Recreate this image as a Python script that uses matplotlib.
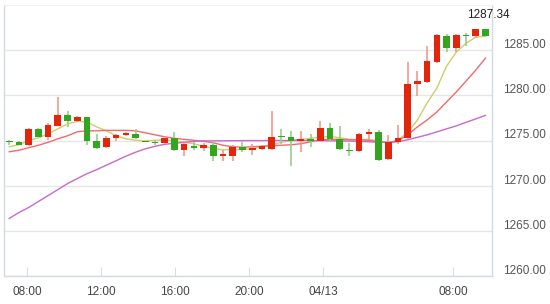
import matplotlib
matplotlib.use("Agg")
import matplotlib.pyplot as plt
import matplotlib.transforms as mtransforms
import numpy as np

# 30 min candles
opens = [1274.80, 1274.78, 1274.45, 1276.29, 1275.44, 1276.62, 1277.83, 1277.20, 1277.58, 1274.96,
         1274.23, 1275.26, 1275.60, 1275.74, 1274.85, 1274.82, 1274.67, 1275.26, 1273.90, 1274.42,
         1274.12, 1274.45, 1273.24, 1273.30, 1274.27, 1273.97, 1274.10, 1274.10, 1275.40, 1275.37,
         1275.00, 1275.15, 1275.00, 1276.37, 1275.15, 1274.00, 1273.80, 1275.70, 1275.93, 1272.95,
         1274.85, 1275.26, 1281.20, 1281.50, 1283.70, 1286.58, 1285.19, 1286.58, 1286.55, 1287.30]
highs = [1275.10, 1275.00, 1276.35, 1276.40, 1276.95, 1279.85, 1278.30, 1277.72, 1277.60, 1275.70,
         1275.52, 1275.70, 1275.90, 1276.30, 1274.90, 1275.05, 1275.33, 1275.93, 1274.90, 1274.80,
         1274.75, 1274.90, 1274.00, 1274.50, 1274.80, 1274.65, 1274.50, 1278.27, 1276.26, 1276.07,
         1276.07, 1275.70, 1277.17, 1276.95, 1276.65, 1274.75, 1275.80, 1276.30, 1276.20, 1275.63,
         1276.73, 1283.71, 1282.68, 1285.44, 1286.84, 1286.75, 1286.80, 1286.90, 1287.34, 1287.32]
lows = [1274.50, 1274.45, 1274.40, 1275.35, 1275.08, 1276.60, 1276.50, 1277.10, 1274.45, 1274.10,
        1274.15, 1274.90, 1275.50, 1275.20, 1274.78, 1274.50, 1274.60, 1273.80, 1273.24, 1273.90,
        1273.80, 1272.76, 1272.70, 1272.78, 1273.70, 1273.45, 1273.98, 1273.98, 1274.60, 1272.13,
        1273.68, 1274.30, 1274.90, 1274.80, 1273.90, 1273.30, 1273.70, 1275.20, 1272.70, 1272.80,
        1274.60, 1275.20, 1279.93, 1281.40, 1283.60, 1284.80, 1284.80, 1285.47, 1286.30, 1286.50]
closes = [1274.78, 1274.50, 1276.29, 1275.44, 1276.73, 1277.83, 1277.20, 1277.58, 1274.90, 1274.20,
          1275.26, 1275.63, 1275.80, 1275.26, 1274.82, 1274.67, 1275.26, 1273.90, 1274.56, 1274.12,
          1274.45, 1273.24, 1273.46, 1274.30, 1273.97, 1274.20, 1274.34, 1275.40, 1275.37, 1275.00,
          1275.15, 1275.00, 1276.37, 1275.15, 1274.05, 1273.80, 1275.70, 1275.93, 1272.87, 1274.85,
          1275.27, 1281.25, 1281.58, 1283.79, 1286.73, 1285.19, 1286.65, 1286.55, 1287.30, 1286.60]

ma_short = [1274.31, 1274.53, 1274.97, 1275.30, 1275.74, 1276.29, 1276.84, 1277.12, 1277.06, 1276.51,
            1276.07, 1275.52, 1275.19, 1275.02, 1274.97, 1275.02, 1275.08, 1274.97, 1274.80, 1274.64,
            1274.36, 1274.14, 1273.97, 1273.97, 1274.03, 1274.08, 1274.31, 1274.53, 1274.80, 1275.02,
            1275.13, 1275.24, 1275.35, 1275.46, 1275.30, 1275.13, 1275.08, 1275.13, 1274.97, 1274.69,
            1275.08, 1275.85, 1277.28, 1279.16, 1280.81, 1283.24, 1284.78, 1285.77, 1286.43, 1286.54]
ma_mid = [1273.75, 1273.92, 1274.20, 1274.47, 1274.80, 1275.19, 1275.52, 1275.96, 1276.07, 1276.07,
          1276.12, 1276.12, 1276.12, 1276.07, 1275.85, 1275.63, 1275.41, 1275.24, 1275.13, 1275.02,
          1274.91, 1274.75, 1274.47, 1274.31, 1274.25, 1274.31, 1274.36, 1274.42, 1274.47, 1274.53,
          1274.64, 1274.86, 1275.08, 1275.13, 1275.13, 1275.08, 1275.08, 1275.02, 1274.86, 1274.75,
          1274.97, 1275.63, 1276.51, 1277.28, 1278.16, 1279.27, 1280.37, 1281.58, 1282.79, 1284.12]
ma_long = [1266.37, 1267.03, 1267.58, 1268.24, 1268.90, 1269.56, 1270.23, 1270.78, 1271.33, 1271.77,
           1272.27, 1272.76, 1273.26, 1273.70, 1274.08, 1274.36, 1274.58, 1274.69, 1274.80, 1274.91,
           1274.95, 1274.96, 1274.97, 1274.98, 1274.98, 1274.99, 1274.99, 1275.00, 1275.00, 1275.00,
           1275.00, 1274.99, 1274.98, 1274.97, 1274.95, 1274.93, 1274.91, 1274.86, 1274.80, 1274.80,
           1274.86, 1275.08, 1275.35, 1275.63, 1275.96, 1276.29, 1276.62, 1277.01, 1277.39, 1277.78]

tick_pos = [1.83, 9.44, 17.05, 24.67, 32.28, 45.66]
tick_labels = ["08:00", "12:00", "16:00", "20:00", "04/13", "08:00"]
y_ticks = [1260, 1265, 1270, 1275, 1280, 1285]
peak_label = "1287.34"

UP = "#e3260b"
DOWN = "#33a51f"
UP_WICK = "#f19a8e"
DOWN_WICK = "#95d08a"

plt.rcParams['font.family'] = ['Liberation Sans', 'DejaVu Sans']

fig = plt.figure(figsize=(5.5, 3.04), dpi=100)
ax = fig.add_axes([4 / 550, 28 / 304, 488 / 550, 271 / 304])

x = np.arange(len(opens))
o = np.array(opens)
c = np.array(closes)
up = c > o
body_low = np.minimum(o, c)
body_h = np.maximum(np.abs(c - o), 0.13)
colors = np.where(up, UP, DOWN)
wick_colors = np.where(up, UP_WICK, DOWN_WICK)

ax.vlines(x, lows, highs, colors=wick_colors, lw=1.2, zorder=3)
ax.bar(x, body_h, bottom=body_low, width=0.68, color=colors, lw=0, zorder=4)

ax.plot(x, ma_short, color="#cfcd6a", lw=1.0, zorder=2)
ax.plot(x, ma_mid, color="#f26a6a", lw=1.0, zorder=2)
ax.plot(x, ma_long, color="#c869cc", lw=1.0, zorder=2)

# highest price label
i_max = int(np.argmax(highs))
ax.annotate(peak_label, (x[i_max], highs[i_max]), xytext=(-6.5, 10),
            textcoords="offset points", ha="left", va="center",
            fontsize=8.5, color="#222222", annotation_clip=False)

ax.set_xlim(-0.535, 49.67)
ax.set_ylim(1260, 1290)

ax.set_xticks(tick_pos)
ax.set_xticklabels(tick_labels)
ax.tick_params(axis="x", direction="in", length=6.5, color="#d9dee8",
               labelsize=8.5, labelcolor="#444444", pad=7)

ax.yaxis.tick_right()
ax.set_yticks(y_ticks)
ax.set_yticklabels([f"{v:.2f}" for v in y_ticks])
ax.tick_params(axis="y", length=0, labelsize=8.5, labelcolor="#555555", pad=8)
shift = mtransforms.ScaledTranslation(0, 0.065, fig.dpi_scale_trans)
for lab in ax.get_yticklabels():
    lab.set_transform(lab.get_transform() + shift)

ax.yaxis.grid(True, color="#e6e6e6", lw=1)
ax.set_axisbelow(True)

for side in ["left", "right", "bottom"]:
    ax.spines[side].set_color("#d3dae6")
    ax.spines[side].set_linewidth(1)
ax.spines["top"].set_color("#eef0f4")

fig.savefig("out.png", dpi=100)
